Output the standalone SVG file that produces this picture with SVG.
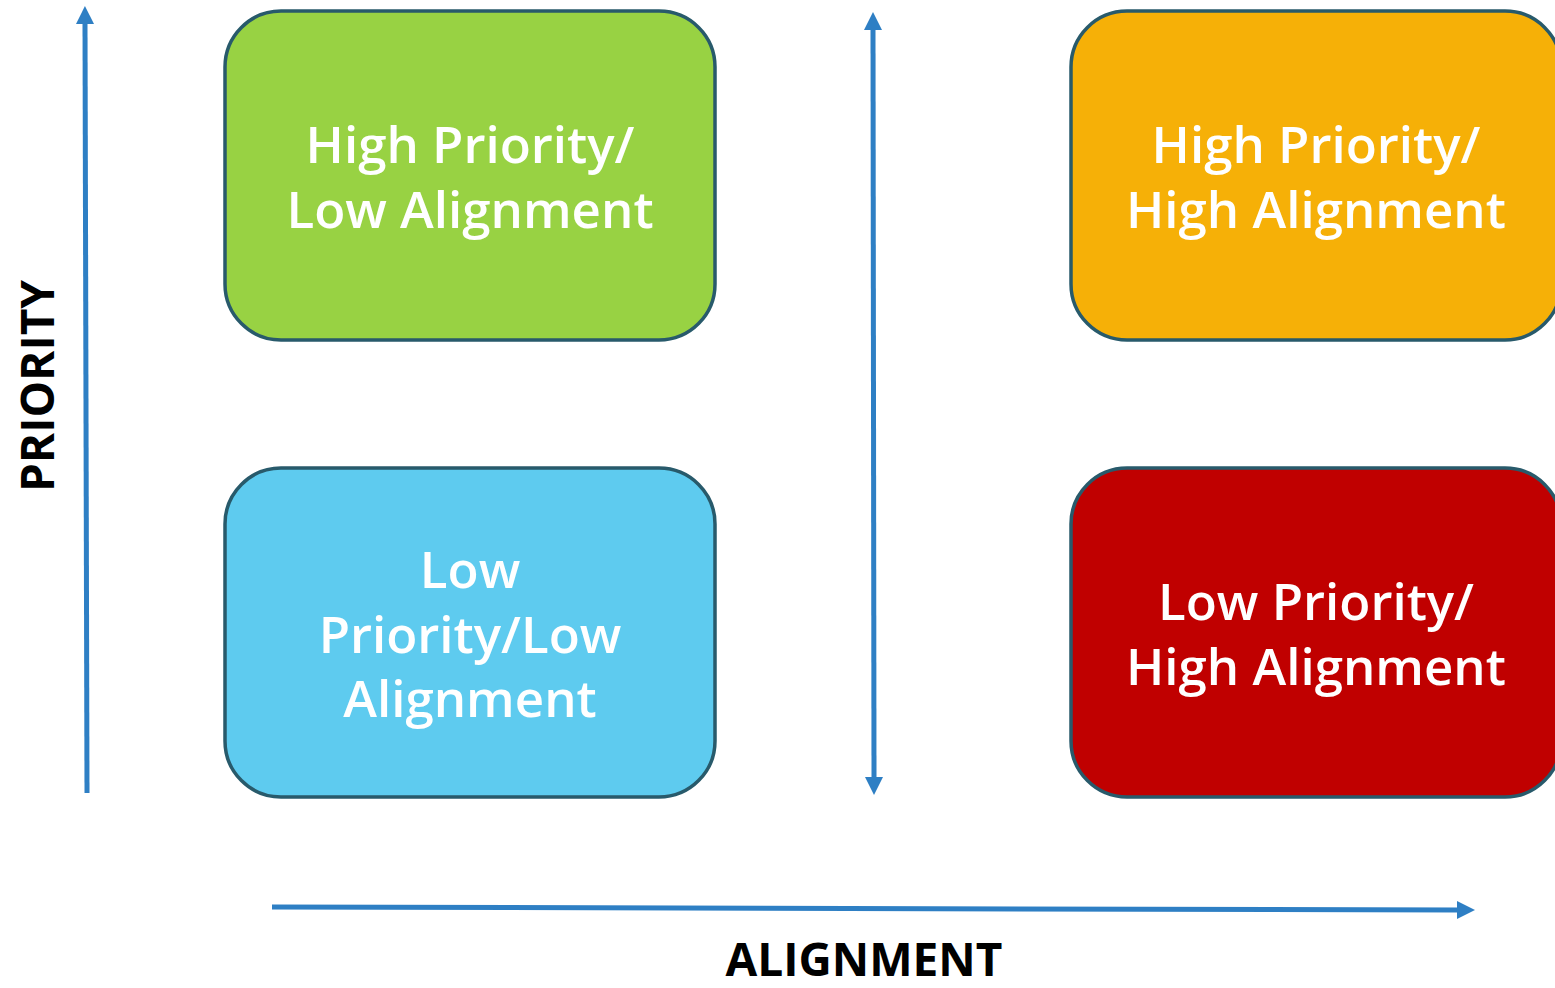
<svg xmlns="http://www.w3.org/2000/svg" width="1555" height="988" viewBox="0 0 1555 988">
<defs>
<marker id="ah" viewBox="0 0 10 10" refX="0" refY="5" markerWidth="3.6" markerHeight="3.6" orient="auto-start-reverse" markerUnits="strokeWidth">
<path d="M0,0 L10,5 L0,10 Z" fill="#2e7fc4"/>
</marker>
<style>
.box{stroke:#285a6b;stroke-width:3.5}
.lbl{font-family:"Open Sans","Liberation Sans",sans-serif;font-weight:600;font-size:51px;fill:#ffffff;text-anchor:middle}
.axis{font-family:"Open Sans","Liberation Sans",sans-serif;font-weight:700;font-size:46px;fill:#000000;text-anchor:middle}
.ln{stroke:#2e7fc4;stroke-width:5;fill:none}
</style>
</defs>
<rect width="1555" height="988" fill="#ffffff"/>
<g id="connectors">
<line class="ln" x1="87" y1="793" x2="85" y2="24" marker-end="url(#ah)"/>
<line class="ln" x1="873" y1="30" x2="874" y2="777" marker-start="url(#ah)" marker-end="url(#ah)"/>
<line class="ln" x1="272" y1="907" x2="1457" y2="910" marker-end="url(#ah)"/>
</g>
<g id="hp-la">
<rect class="box" x="225" y="11" width="490" height="329" rx="56" fill="#98d243"/>
<text class="lbl" x="470" y="163">High Priority/</text>
<text class="lbl" x="470" y="228">Low Alignment</text>
</g>
<g id="hp-ha">
<rect class="box" x="1071" y="11" width="490" height="329" rx="56" fill="#f6b007"/>
<text class="lbl" x="1316" y="163">High Priority/</text>
<text class="lbl" x="1316" y="228">High Alignment</text>
</g>
<g id="lp-la">
<rect class="box" x="225" y="468" width="490" height="329" rx="56" fill="#5ecbef"/>
<text class="lbl" x="470" y="588">Low</text>
<text class="lbl" x="470" y="653">Priority/Low</text>
<text class="lbl" x="470" y="717">Alignment</text>
</g>
<g id="lp-ha">
<rect class="box" x="1071" y="468" width="490" height="329" rx="56" fill="#c00000"/>
<text class="lbl" x="1316" y="620">Low Priority/</text>
<text class="lbl" x="1316" y="685">High Alignment</text>
</g>
<g id="axis-labels">
<text class="axis" x="864" y="976">ALIGNMENT</text>
<text class="axis" transform="translate(54,386) rotate(-90)">PRIORITY</text>
</g>
</svg>
